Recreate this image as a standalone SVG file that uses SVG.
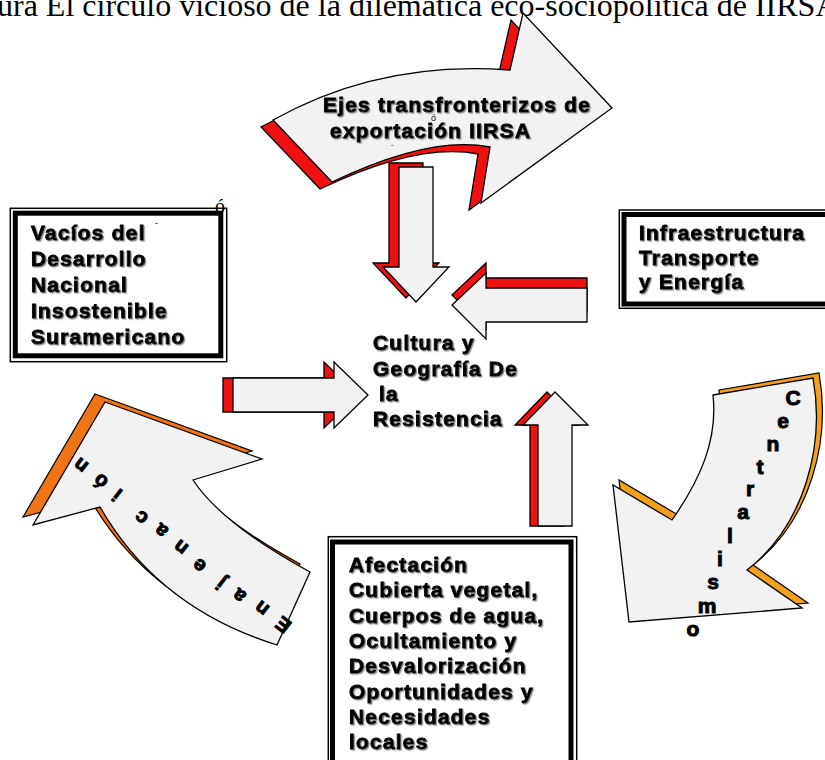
<svg xmlns="http://www.w3.org/2000/svg" width="825" height="760" viewBox="0 0 825 760">
<defs>
<style>
.g{fill:#f2f2f2;stroke:#000;stroke-width:1.3;stroke-linejoin:miter}
.r{fill:#ef1111;stroke:#000;stroke-width:1.3}
.o1{fill:#f07415;stroke:#000;stroke-width:1.2}
.o2{fill:#f2a01c;stroke:#000;stroke-width:1.2}
.t{font-family:"Liberation Sans",Arial,sans-serif;font-weight:bold;font-size:21px;letter-spacing:1.2px;fill:#000;stroke:#000;stroke-width:0.9;filter:url(#ts)}
.w{font-family:"Liberation Sans",Arial,sans-serif;font-weight:bold;fill:#000;stroke:#000;stroke-width:1}
.thin{fill:#fff;stroke:#000;stroke-width:1.5}
.thick{fill:none;stroke:#000;stroke-width:5}
.title{font-family:"Liberation Serif","Times New Roman",serif;font-size:32px;fill:#000}
.s{font-family:"Liberation Sans",Arial,sans-serif;fill:#000}
</style>
<filter id="ts" x="-5%" y="-30%" width="110%" height="160%">
<feDropShadow dx="1.2" dy="1.2" stdDeviation="0.7" flood-color="#777" flood-opacity="0.8"/>
</filter>
</defs>
<rect width="825" height="760" fill="#fff"/>
<text class="title" x="-3" y="16">ura El círculo vicioso de la dilemática eco-sociopolítica de IIRSA</text>

<g id="arrow-ejes">
<path class="r" transform="translate(-12,7)" d="M273,120 Q380,60 510,70 L523,13 L612,108 L481,203 L490,147 Q430,135 332,182 Z"/>
<path class="g" d="M273,120 Q380,60 510,70 L523,13 L612,108 L481,203 L490,147 Q430,135 332,182 Z"/>
<text class="t" x="323" y="112">Ejes transfronterizos de</text>
<text class="t" x="330" y="138">exportación IIRSA</text>
<text class="s" style="font-size:9px" x="431" y="121">ó</text>
<text class="s" style="font-size:7px" x="391" y="147">-</text>
</g>

<g id="box-vacios">
<rect class="thin" x="10.3" y="208.3" width="216.4" height="153.4"/>
<rect class="thick" x="15.3" y="213.2" width="205.5" height="142.6"/>
<text class="t" x="31" y="240">Vacíos del</text>
<text class="t" x="31" y="266">Desarrollo</text>
<text class="t" x="31" y="292">Nacional</text>
<text class="t" x="31" y="318">Insostenible</text>
<text class="t" x="31" y="344">Suramericano</text>
<text class="s" style="font-size:9px" x="155" y="226">-</text>
<text style="font-family:'Liberation Serif',serif;font-size:20px" x="215" y="213">ó</text>
</g>

<g id="box-infra">
<rect class="thin" x="619.3" y="210" width="230" height="98.3"/>
<rect class="thick" x="624" y="214.5" width="220" height="89.5"/>
<text class="t" x="639" y="240">Infraestructura</text>
<text class="t" x="639" y="265">Transporte</text>
<text class="t" x="639" y="289">y Energía</text>
</g>

<g id="center-cultura">
<text class="t" x="373" y="350">Cultura y</text>
<text class="t" x="373" y="376">Geografía De</text>
<text class="t" x="379" y="401">la</text>
<text class="t" x="373" y="426">Resistencia</text>
</g>

<g id="box-afectacion">
<rect class="thin" x="328.3" y="536.7" width="248.4" height="240"/>
<rect class="thick" x="332.5" y="542" width="238.5" height="240"/>
<text class="t" x="349" y="572">Afectación</text>
<text class="t" x="349" y="597.3">Cubierta vegetal,</text>
<text class="t" x="349" y="622.6">Cuerpos de agua,</text>
<text class="t" x="349" y="647.9">Ocultamiento y</text>
<text class="t" x="349" y="673.2">Desvalorización</text>
<text class="t" x="349" y="698.5">Oportunidades y</text>
<text class="t" x="349" y="723.8">Necesidades</text>
<text class="t" x="349" y="749.1">locales</text>
</g>

<g id="arrow-enajenacion">
<path class="o1" transform="translate(-10,-8)" d="M105,402 L262,459 L193,480 Q222,524 310,572 L277,645 Q158,608 100,507 L33,525 Z"/>
<path class="g" d="M105,402 L262,459 L193,480 Q222,524 310,572 L277,645 Q158,608 100,507 L33,525 Z"/>
<text class="w" style="font-size:20px" x="292.7 270.6 247.6 227.3 207.6 189.6 169.6 149.6 123.4 109.4 89.6" y="623.5 607.3 594.3 579.8 564.3 546.3 529.3 516.3 491.3 479.9 464.3" rotate="-142 -142 -142 -142 -142 -142 -142 -142 -142 -142 -142">Enajenación</text>
</g>

<g id="arrow-centralismo">
<path class="o2" transform="translate(6,-5)" d="M713,395 L813,378 C825,445 805,525 747,570 L802,608 L629,622 L613,485 L672,520 C700,480 718,440 713,395 Z"/>
<path class="g" d="M713,395 L813,378 C825,445 805,525 747,570 L802,608 L629,622 L613,485 L672,520 C700,480 718,440 713,395 Z"/>
<text class="w" style="font-size:21px" x="785.4 777.2 766.6 756.5 745.9 737.2 727.1 717.1 707.2 697.7 686.6" y="404.5 427.5 450.5 473.5 495.5 518.5 542.5 565.5 588.5 612.5 635.5">Centralismo</text>
</g>

<g id="connectors">
<polygon class="r" points="389,163 423,163 423,263 439,263 406,298 373,263 389,263"/>
<polygon class="g" points="399,167 433,167 433,267 449,267 416,302 383,267 399,267"/>
<polygon class="r" points="587,278 486,278 486,263 452,295 486,329 486,312 587,312"/>
<polygon class="g" points="587,288 486,288 486,273 452,305 486,339 486,322 587,322"/>
<polygon class="r" points="223,378 324,378 324,362 358,395 324,428 324,412 223,412"/>
<polygon class="g" points="233,378 334,378 334,362 368,395 334,428 334,412 233,412"/>
<polygon class="r" points="530,526 530,425 515,425 547,392 580,425 564,425 564,526"/>
<polygon class="g" points="538,526 538,425 523,425 555,392 588,425 572,425 572,526"/>
</g>
</svg>
